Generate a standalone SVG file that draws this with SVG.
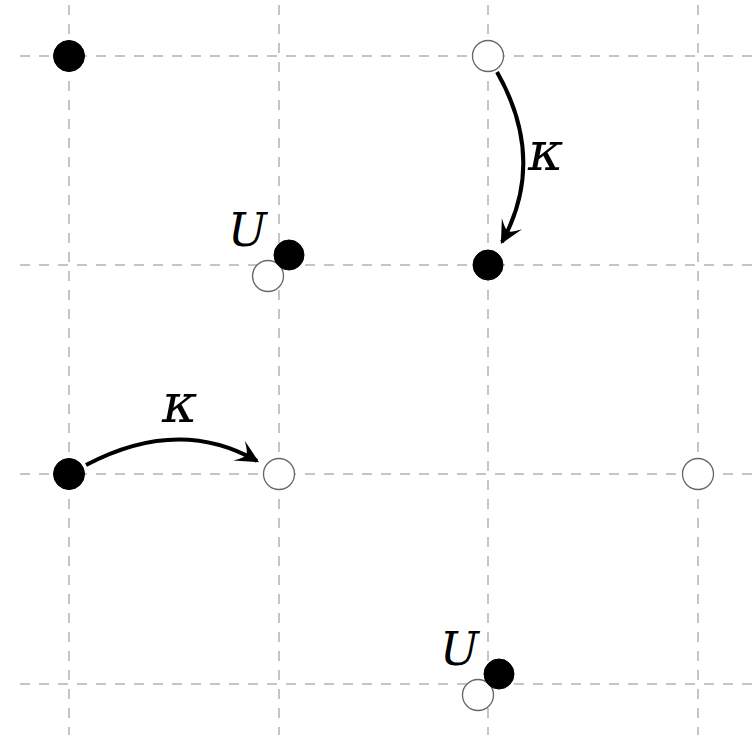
<svg xmlns="http://www.w3.org/2000/svg" width="754" height="735" viewBox="0 0 754 735">
<style>
.grid line{stroke:#b3b3b3;stroke-width:1.5;stroke-dasharray:10 9}
.full{fill:#000;stroke:#000;stroke-width:1}
.empty{fill:#fff;stroke:#666;stroke-width:1.3}
.arr{fill:none;stroke:#000;stroke-width:4}
.lbl{font-family:"DejaVu Serif","Liberation Serif",serif;font-style:italic;fill:#000}
.k{font-size:54px}
.u{font-size:46px}
</style>
<defs>
<marker id="ah" markerUnits="userSpaceOnUse" markerWidth="30" markerHeight="30" viewBox="-22 -11 26 22" refX="0" refY="0" orient="auto">
<path d="M2,0 L-18,-10 Q-10,-2 -11,0 Q-10,2 -18,10 Z" fill="#000"/>
</marker>
</defs>
<rect width="754" height="735" fill="#fff"/>
<g class="grid">
<line x1="69" y1="5" x2="69" y2="735"/>
<line x1="279" y1="5" x2="279" y2="735"/>
<line x1="488" y1="5" x2="488" y2="735"/>
<line x1="698" y1="5" x2="698" y2="735"/>
<line x1="20" y1="56" x2="754" y2="56"/>
<line x1="20" y1="265" x2="754" y2="265"/>
<line x1="20" y1="474" x2="754" y2="474"/>
<line x1="20" y1="684" x2="754" y2="684"/>
</g>
<g id="connectors">
<path class="arr" d="M497,72 Q547,160 502,242" marker-end="url(#ah)"/>
<path class="arr" d="M86,465 Q179,416 257,461" marker-end="url(#ah)"/>
</g>
<g id="n1"><circle class="full" cx="69" cy="56" r="15.5"/></g>
<g id="n2"><circle class="empty" cx="488" cy="56" r="15.5"/></g>
<g id="n3"><circle class="full" cx="488" cy="265" r="15"/></g>
<g id="n4"><circle class="empty" cx="268" cy="276" r="15.5"/><circle class="full" cx="289" cy="255" r="15"/></g>
<g id="n5"><circle class="full" cx="69" cy="474" r="15.5"/></g>
<g id="n6"><circle class="empty" cx="279" cy="474" r="15.5"/></g>
<g id="n7"><circle class="empty" cx="698" cy="474" r="15.5"/></g>
<g id="n8"><circle class="empty" cx="478" cy="695" r="15.5"/><circle class="full" cx="499" cy="674" r="15"/></g>
<g id="labels">
<text class="lbl k" x="528" y="170">κ</text>
<text class="lbl k" x="162" y="422">κ</text>
<text class="lbl u" x="228" y="246">U</text>
<text class="lbl u" x="440" y="665">U</text>
</g>
</svg>
